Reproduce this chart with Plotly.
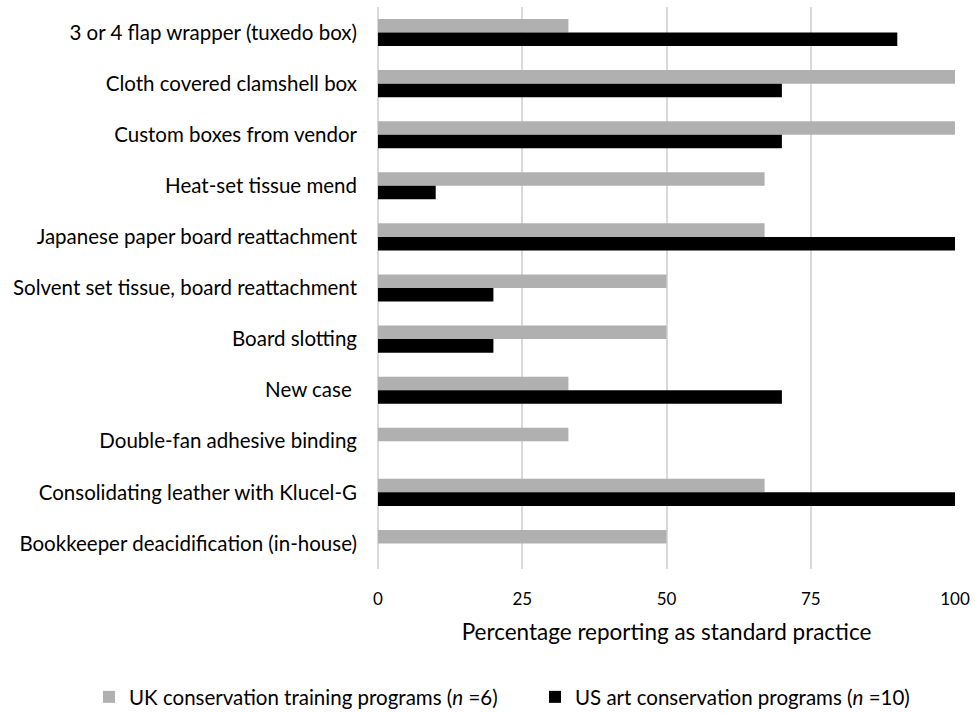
import plotly.graph_objects as go

categories = [
    "3 or 4 flap wrapper (tuxedo box)",
    "Cloth covered clamshell box",
    "Custom boxes from vendor",
    "Heat-set tissue mend",
    "Japanese paper board reattachment",
    "Solvent set tissue, board reattachment",
    "Board slotting",
    "New case ",
    "Double-fan adhesive binding",
    "Consolidating leather with Klucel-G",
    "Bookkeeper deacidification (in-house)",
]
uk_values = [33, 100, 100, 67, 67, 50, 50, 33, 33, 67, 50]
us_values = [90, 70, 70, 10, 100, 20, 20, 70, 0, 100, 0]
x_ticks = [0, 25, 50, 75, 100]

FONT = "Lato"
SIZE = 20.5

fig = go.Figure()
fig.add_trace(go.Bar(
    y=categories, x=uk_values, orientation="h",
    name="UK conservation training programs (<i>n</i> =6)",
    marker=dict(color="#b0b0b0", line=dict(width=0)),
    legend="legend",
))
fig.add_trace(go.Bar(
    y=categories, x=us_values, orientation="h",
    name="US art conservation programs (<i>n</i> =10)",
    marker=dict(color="#000000", line=dict(width=0)),
    legend="legend2",
))

# two separate legends so the entries stay on one row
leg = dict(
    orientation="h", xanchor="left", xref="container",
    y=0.0224, yanchor="middle", yref="container",
    font=dict(size=SIZE), itemwidth=30, bgcolor="rgba(0,0,0,0)",
)
fig.update_layout(
    width=975, height=713,
    barmode="group", bargap=0.47, bargroupgap=0,
    margin=dict(l=378, r=20, t=7, b=144),
    paper_bgcolor="white", plot_bgcolor="white",
    font=dict(family=FONT, size=SIZE, color="#000000"),
    showlegend=True,
    legend=dict(leg, x=0.0913),
    legend2=dict(leg, x=0.5487),
)
fig.update_xaxes(
    range=[0, 100], tickvals=x_ticks, automargin=False,
    showgrid=True, gridcolor="#d9d9d9", gridwidth=1.5,
    zeroline=True, zerolinecolor="#d9d9d9", zerolinewidth=1.5,
    showline=False, ticks="", ticklabelstandoff=18,
    tickfont=dict(size=17),
    title=dict(text="Percentage reporting as standard practice", standoff=16,
               font=dict(size=22.5)),
)
fig.update_yaxes(
    autorange="reversed", showgrid=False, showline=False, ticks="",
    automargin=False, ticklabelstandoff=20,
)

# drop the default 8px body margin so the figure fills the window exactly
fig.write_html(
    "out.html",
    config={"displayModeBar": False},
    post_script="document.body.style.margin='0';document.body.style.overflow='hidden';",
)
